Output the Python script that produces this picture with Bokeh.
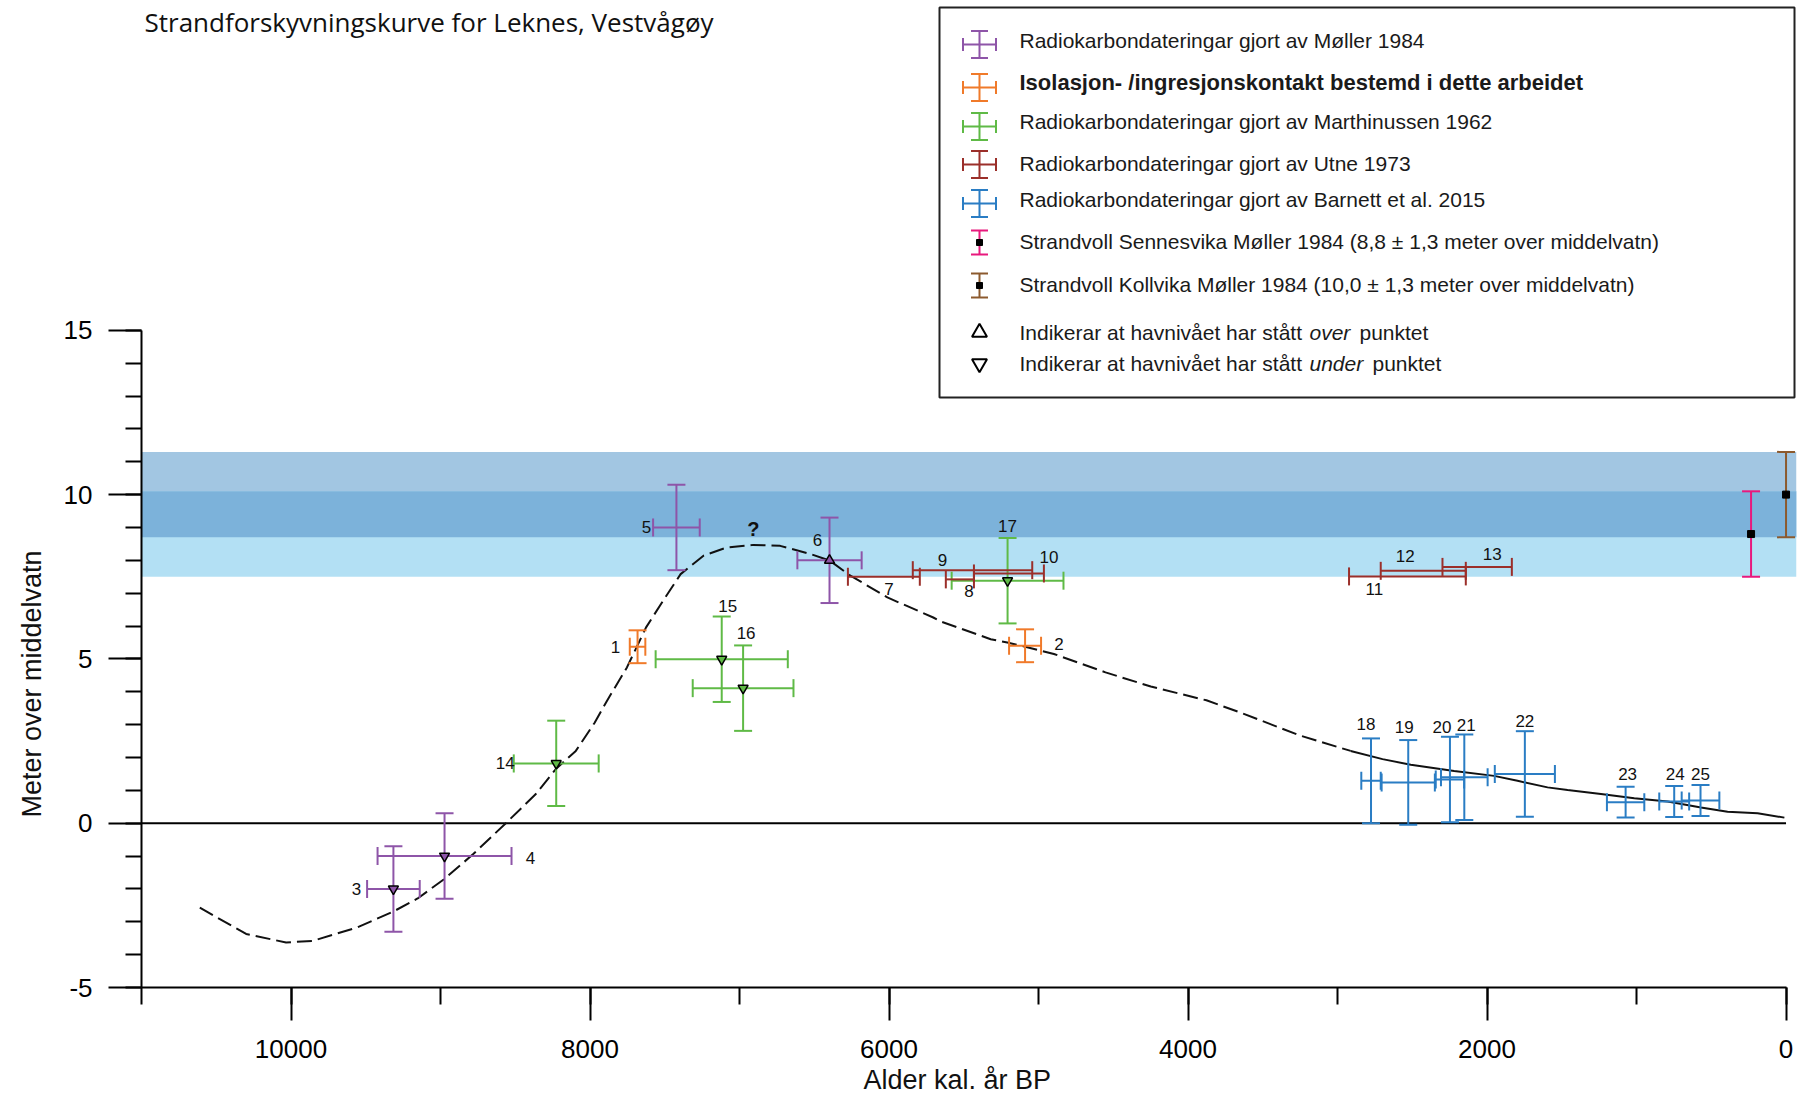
from math import pi
from bokeh.plotting import figure
from bokeh.models import Range1d, SingleIntervalTicker, Whisker, TeeHead, ColumnDataSource, Label, Title
from bokeh.core.properties import value
from bokeh.embed import file_html
from bokeh.resources import INLINE

# ---------------- data (age in cal. years BP, height in m above mean sea level) ----------------
moller_id = ["3", "4", "5", "6"]
moller_age = [9315, 8973, 7422, 6398]
moller_age_err = [176, 448, 156, 215]
moller_h = [-2.0, -1.0, 9.0, 8.0]
moller_h_err = [1.3, 1.3, 1.3, 1.3]
moller_flag = ["under", "under", "", "over"]

iso_id = ["1", "2"]
iso_age = [7682, 5090]
iso_age_err = [52, 107]
iso_h = [5.37, 5.40]
iso_h_err = [0.5, 0.5]
iso_flag = ["", ""]

marth_id = ["14", "15", "16", "17"]
marth_age = [8226, 7119, 6976, 5207]
marth_age_err = [284, 442, 337, 374]
marth_h = [1.82, 4.99, 4.11, 7.38]
marth_h_err = [1.3, 1.3, 1.3, 1.3]
marth_flag = ["under", "under", "under", "under"]

utne_id = ["7", "8", "9", "10", "11", "12", "13"]
utne_age_old = [6275, 5620, 5841, 5432, 2923, 2711, 2298]
utne_age_young = [5794, 5432, 5042, 4964, 2142, 2142, 1834]
utne_h = [7.50, 7.42, 7.70, 7.60, 7.51, 7.68, 7.80]

barnett_id = ["18", "19", "20", "21", "22", "23", "24", "25"]
barnett_age = [2776, 2527, 2248, 2152, 1747, 1073, 748, 572]
barnett_age_err = [65, 178, 95, 156, 201, 125, 100, 126]
barnett_h = [1.29, 1.24, 1.33, 1.40, 1.50, 0.64, 0.66, 0.69]
barnett_h_err = [1.29, 1.29, 1.30, 1.30, 1.30, 0.47, 0.47, 0.47]

sennesvika_age = [234]
sennesvika_h = [8.8]
sennesvika_err = [1.3]
kollvika_age = [0]
kollvika_h = [10.0]
kollvika_err = [1.3]

curve_age = [10610, 10300, 10033, 9854, 9556, 9316, 9153, 8975, 8781, 8563, 8364, 8230, 8095,
             7970, 7887, 7753, 7625, 7497, 7394, 7241, 7087, 6908, 6728, 6524, 6396, 6267, 6011,
             5704, 5655, 5320, 5209, 5089, 4897, 4552, 4249, 3877, 3646, 3246, 2912, 2699, 2510,
             2220, 1953, 1796, 1595, 1461, 1238, 1015, 792, 569, 391, 190, 11]
curve_h = [-2.57, -3.37, -3.63, -3.58, -3.17, -2.69, -2.29, -1.70, -0.94, 0.00, 0.88, 1.64, 2.20,
           3.05, 3.72, 4.74, 5.96, 6.87, 7.58, 8.14, 8.39, 8.47, 8.44, 8.19, 7.99, 7.56, 6.87,
           6.26, 6.14, 5.60, 5.50, 5.37, 5.15, 4.59, 4.16, 3.74, 3.36, 2.66, 2.20, 1.95, 1.78,
           1.59, 1.44, 1.29, 1.09, 1.01, 0.89, 0.76, 0.66, 0.48, 0.35, 0.30, 0.17]
DASH_UNTIL = 2912  # curve is dashed for ages older than this

x_ticks_major = 2000
y_ticks_major = 5

# ---------------- layout ----------------
W, H = 1801, 1097
FRAME_LEFT, PAD_RIGHT, PAD_BOTTOM = 141, 5, 110
FRAME_W = W - FRAME_LEFT - PAD_RIGHT
FRAME_H = H - PAD_BOTTOM
X_START, X_END = 11000, -70
PX_YR = FRAME_W / (X_START - X_END)
Y_BOTTOM, PX_M = -5, 32.86
Y_TOP = Y_BOTTOM + FRAME_H / PX_M


def sx2x(sx):
    return X_START - (sx - FRAME_LEFT) / PX_YR


def sy2y(sy):
    return Y_TOP - sy / PX_M


FONT = "Liberation Sans"
PURPLE, ORANGE, GREEN, RED, BLUE = "#8e55a8", "#f07a2a", "#5fba46", "#9b2f2a", "#2a7dc4"
PINK, BROWN = "#e8197d", "#8c5a2e"
CAP = 18

# label offsets (screen px, +y = down) relative to point/bar centre
label_offset = {"1": (-22, 0), "2": (34, -2), "3": (-37, 0), "4": (86, 2), "5": (-30, 0),
                "6": (-12, -20), "7": (5, 12), "8": (9, 12), "9": (-30, -10), "10": (40, -16),
                "11": (-33, 13), "12": (-18, -15), "13": (15, -13), "14": (-51, 0),
                "15": (6, -53), "16": (3, -55), "17": (0, -55), "18": (-5, -57), "19": (-4, -55),
                "20": (-8, -52), "21": (2, -52), "22": (0, -53), "23": (2, -28), "24": (1, -28),
                "25": (0, -27)}

p = figure(width=W, height=H, x_range=Range1d(X_START, X_END), y_range=Range1d(Y_BOTTOM, Y_TOP),
           output_backend="svg", toolbar_location=None, title=None,
           min_border_left=FRAME_LEFT, min_border_right=PAD_RIGHT, min_border_top=0,
           min_border_bottom=PAD_BOTTOM, background_fill_color="white", border_fill_color="white")
p.outline_line_color = None
p.grid.visible = False

# axes
xa = p.xaxis[0]
xa.ticker = SingleIntervalTicker(interval=x_ticks_major, num_minor_ticks=2)
xa.bounds = (0, X_START)
ya = p.yaxis[0]
ya.ticker = SingleIntervalTicker(interval=y_ticks_major, num_minor_ticks=5)
ya.bounds = (-5, 15)
ya.major_label_overrides = {-5: "-5"}
for ax, minor_len, standoff in ((xa, 17, 19), (ya, 16, 16)):
    ax.axis_line_width = 2
    ax.axis_line_color = "black"
    ax.major_tick_line_width = 2
    ax.minor_tick_line_width = 2
    ax.major_tick_line_color = "black"
    ax.minor_tick_line_color = "black"
    ax.major_tick_in = 0
    ax.minor_tick_in = 0
    ax.major_tick_out = 33
    ax.minor_tick_out = minor_len
    ax.major_label_text_font = FONT
    ax.major_label_text_font_size = "26px"
    ax.major_label_text_color = "black"
    ax.major_label_standoff = standoff

# axis titles as side-panel titles
p.add_layout(Title(text="Meter over middelvatn", align="left", offset=170, standoff=28,
                   text_font=FONT, text_font_size="27px", text_font_style="normal",
                   text_color="#111111"), "left")
p.add_layout(Title(text="Alder kal. år BP", align="left", offset=722, standoff=5,
                   text_font=FONT, text_font_size="27px", text_font_style="normal",
                   text_color="#111111"), "below")

# shoreline bands from the two beach ridges
k_lo, k_hi = kollvika_h[0] - kollvika_err[0], kollvika_h[0] + kollvika_err[0]
s_lo, s_hi = sennesvika_h[0] - sennesvika_err[0], sennesvika_h[0] + sennesvika_err[0]
p.quad(left=X_START, right=X_END, bottom=k_lo, top=k_hi, fill_color="#a2c6e2", line_color=None, level="underlay")
p.quad(left=X_START, right=X_END, bottom=s_lo, top=s_hi, fill_color="#b3e0f4", line_color=None, level="underlay")
p.quad(left=X_START, right=X_END, bottom=max(k_lo, s_lo), top=min(k_hi, s_hi), fill_color="#7cb2da",
       line_color=None, level="underlay")

# zero line
p.line(x=[X_START, 0], y=[0, 0], line_color="black", line_width=2)

# sea-level curve
dashed = [i for i, a in enumerate(curve_age) if a >= DASH_UNTIL]
solid = [i for i, a in enumerate(curve_age) if a <= DASH_UNTIL]
p.line(x=[curve_age[i] for i in dashed], y=[curve_h[i] for i in dashed], line_color="#111111",
       line_width=2, line_dash="15 6")
p.line(x=[curve_age[i] for i in solid], y=[curve_h[i] for i in solid], line_color="#111111", line_width=2)


def whisker(src, dim, base, lo, hi, color, head=CAP, width=2):
    w = Whisker(source=src, base=base, lower=lo, upper=hi, dimension=dim, line_color=color,
                line_width=width, level="annotation",
                lower_head=TeeHead(size=head, line_color=color, line_width=width),
                upper_head=TeeHead(size=head, line_color=color, line_width=width))
    p.add_layout(w)


def labels(ids, xs, ys):
    lx = [x - label_offset[i][0] / PX_YR for i, x in zip(ids, xs)]
    ly = [y - label_offset[i][1] / PX_M for i, y in zip(ids, ys)]
    p.text(x=lx, y=ly, text=ids, text_font=value(FONT), text_font_size="17px", text_align="center",
           text_baseline="middle", text_color="#111111", level="overlay")


def cross_series(ids, age, age_err, h, h_err, color, flags=None):
    src = ColumnDataSource(dict(
        x=age, y=h,
        xlo=[a - e for a, e in zip(age, age_err)], xhi=[a + e for a, e in zip(age, age_err)],
        ylo=[v - e for v, e in zip(h, h_err)], yhi=[v + e for v, e in zip(h, h_err)]))
    whisker(src, "width", "y", "xlo", "xhi", color)
    whisker(src, "height", "x", "ylo", "yhi", color)
    if flags:
        for flag, marker in (("under", "inverted_triangle"), ("over", "triangle")):
            idx = [i for i, f in enumerate(flags) if f == flag]
            if idx:
                p.scatter(x=[age[i] for i in idx], y=[h[i] for i in idx], marker=marker, size=10,
                          fill_color=color, line_color="black", line_width=1.5, level="overlay")
    labels(ids, age, h)


cross_series(moller_id, moller_age, moller_age_err, moller_h, moller_h_err, PURPLE, moller_flag)
cross_series(iso_id, iso_age, iso_age_err, iso_h, iso_h_err, ORANGE, iso_flag)
cross_series(marth_id, marth_age, marth_age_err, marth_h, marth_h_err, GREEN, marth_flag)
cross_series(barnett_id, barnett_age, barnett_age_err, barnett_h, barnett_h_err, BLUE)

# Utne: age ranges only
utne_src = ColumnDataSource(dict(y=utne_h, xlo=utne_age_old, xhi=utne_age_young))
whisker(utne_src, "width", "y", "xlo", "xhi", RED)
labels(utne_id, [(a + b) / 2 for a, b in zip(utne_age_old, utne_age_young)], utne_h)

# beach ridges
for ages, hs, errs, color in ((sennesvika_age, sennesvika_h, sennesvika_err, PINK),
                              (kollvika_age, kollvika_h, kollvika_err, BROWN)):
    src = ColumnDataSource(dict(x=ages, lo=[v - e for v, e in zip(hs, errs)], hi=[v + e for v, e in zip(hs, errs)]))
    whisker(src, "height", "x", "lo", "hi", color)
    p.scatter(x=ages, y=hs, marker="square", size=7, fill_color="black", line_color="black", level="overlay")

# question mark above the curve maximum
imax = max(range(len(curve_h)), key=lambda i: curve_h[i])
p.text(x=[curve_age[imax]], y=[curve_h[imax] + 16 / PX_M], text=["?"], text_font=value(FONT),
       text_font_size="20px", text_font_style="bold", text_align="center", text_baseline="middle",
       text_color="#111111", level="overlay")

# chart title (top-left)
p.add_layout(Label(x=sx2x(144), y=sy2y(21), text="Strandforskyvningskurve for Leknes, Vestvågøy",
                   text_font="Open Sans", text_font_size="26px", text_color="#111111",
                   text_align="left", text_baseline="alphabetic"))

# ---------------- legend (drawn by hand) ----------------
p.quad(left=sx2x(939), right=sx2x(1794), top=sy2y(7), bottom=sy2y(397), fill_color="white",
       line_color="#222222", line_width=2)
ICON_SX, TEXT_SX = 979, 1019
icon_sy = [44, 87, 126, 164, 203, 242, 285, 332, 363]
text_sy = [40, 82, 121, 163, 199, 241, 284, 332, 363]
ix = sx2x(ICON_SX)
for row, color in enumerate([PURPLE, ORANGE, GREEN, RED, BLUE]):
    iy = sy2y(icon_sy[row])
    src = ColumnDataSource(dict(x=[ix], y=[iy], xlo=[ix - 16.5 / PX_YR], xhi=[ix + 16.5 / PX_YR],
                                ylo=[iy - 13.5 / PX_M], yhi=[iy + 13.5 / PX_M]))
    whisker(src, "width", "y", "xlo", "xhi", color, head=13)
    whisker(src, "height", "x", "ylo", "yhi", color, head=17)
for row, color in ((5, PINK), (6, BROWN)):
    iy = sy2y(icon_sy[row])
    src = ColumnDataSource(dict(x=[ix], lo=[iy - 12 / PX_M], hi=[iy + 12 / PX_M]))
    whisker(src, "height", "x", "lo", "hi", color, head=17)
    p.scatter(x=[ix], y=[iy], marker="square", size=6, fill_color="black", line_color="black", level="overlay")
p.scatter(x=[ix], y=[sy2y(icon_sy[7])], marker="triangle", size=15, fill_color=None, line_color="black",
          line_width=2, level="overlay")
p.scatter(x=[ix], y=[sy2y(icon_sy[8])], marker="inverted_triangle", size=15, fill_color=None,
          line_color="black", line_width=2, level="overlay")


def fmt(v):
    return f"{v:.1f}".replace(".", ",")


legend_texts = [
    ("Radiokarbondateringar gjort av Møller 1984", "normal", "21px"),
    ("Isolasjon- /ingresjonskontakt bestemd i dette arbeidet", "bold", "22px"),
    ("Radiokarbondateringar gjort av Marthinussen 1962", "normal", "21px"),
    ("Radiokarbondateringar gjort av Utne 1973", "normal", "21px"),
    ("Radiokarbondateringar gjort av Barnett et al. 2015", "normal", "21px"),
    (f"Strandvoll Sennesvika Møller 1984 ({fmt(sennesvika_h[0])} ± {fmt(sennesvika_err[0])} meter over middelvatn)", "normal", "21px"),
    (f"Strandvoll Kollvika Møller 1984 ({fmt(kollvika_h[0])} ± {fmt(kollvika_err[0])} meter over middelvatn)", "normal", "21px"),
]
for row, (txt, style, size) in enumerate(legend_texts):
    p.add_layout(Label(x=sx2x(TEXT_SX), y=sy2y(text_sy[row]), text=txt, text_font=FONT,
                       text_font_size=size, text_font_style=style, text_color="#1a1a1a",
                       text_align="left", text_baseline="middle"))
for row, word, word_sx, rest_sx in ((7, "over", 1309, 1359), (8, "under", 1309, 1372)):
    for txt, sx, style in (("Indikerar at havnivået har stått", TEXT_SX, "normal"), (word, word_sx, "italic"),
                           ("punktet", rest_sx, "normal")):
        p.add_layout(Label(x=sx2x(sx), y=sy2y(text_sy[row]), text=txt, text_font=FONT,
                           text_font_size="21px", text_font_style=style, text_color="#1a1a1a",
                           text_align="left", text_baseline="middle"))

open("out.html", "w").write(file_html(p, INLINE))
